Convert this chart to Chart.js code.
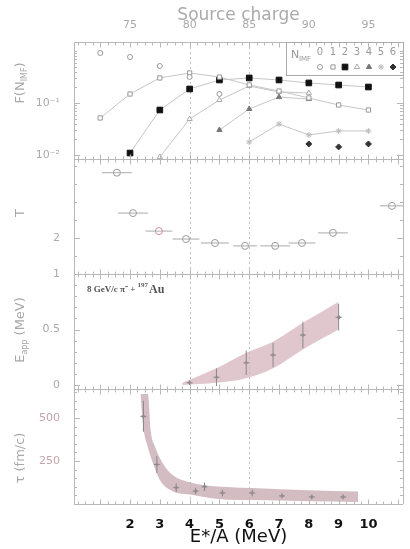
<!DOCTYPE html>
<html><head><meta charset="utf-8">
<script src="https://cdn.jsdelivr.net/npm/chart.js@4.4.1/dist/chart.umd.min.js"></script>
<style>html,body{margin:0;padding:0;background:#fff;}#wrap{position:relative;width:410px;height:549px;}</style>
</head><body><div id="wrap"><canvas id="c" width="410" height="549"></canvas></div>
<script>
// ---------- data ----------
const eStar = [1,2,3,4,5,6,7,8,9,10];
const F_N0 = [0.916,0.767,0.515,0.316,0.149,null,null,null,null,null];
const F_N1 = [0.0515,0.149,0.303,0.378,0.316,0.222,0.170,0.125,0.0916,0.0733];
const F_N2 = [null,0.0109,0.0733,0.186,0.277,0.303,0.277,0.243,0.222,0.203];
const F_N3 = [null,null,0.00916,0.0492,0.114,0.212,0.163,0.156,null,null];
const F_N4 = [null,null,null,null,0.0303,0.0767,0.130,0.119,null,null];
const F_N5 = [null,null,null,null,null,0.0178,0.0394,0.0243,0.0290,0.0290];
const F_N6 = [null,null,null,null,null,null,null,0.0163,0.0143,0.0163];

const T_x    = [1.56,2.1,2.97,3.88,4.85,5.86,6.87,7.77,8.81,10.79];
const T_val  = [3.81,2.69,2.19,1.97,1.86,1.78,1.78,1.86,2.14,2.89];
const T_xerr = [0.5,0.5,0.45,0.45,0.47,0.4,0.5,0.45,0.5,0.4];

const Eapp_x   = [4.0,4.9,5.9,6.8,7.8,9.0];
const Eapp_val = [0.02,0.07,0.20,0.27,0.45,0.61];
const Eapp_err = [0.02,0.08,0.11,0.11,0.12,0.12];
const EappBand_x  = [3.75,4.9,5.9,6.8,7.8,9.0];
const EappBand_hi = [0.02,0.15,0.29,0.39,0.56,0.75];
const EappBand_lo = [0.0,0.02,0.06,0.15,0.32,0.50];

const tau_x   = [2.45,2.9,3.55,4.2,4.5,5.1,6.1,7.1,8.1,9.15];
const tau_val = [510,230,95,75,100,64,64,47,41,41];
const tau_err = [90,50,25,20,25,20,20,15,15,15];
const tauBand_x  = [2.35,2.45,2.6,2.7,2.85,3.0,3.35,4.1,5.25,6.1,8.0,9.65];
const tauBand_hi = [640,640,640,420,330,267,180,122,99,93,80,72];
const tauBand_lo = [640,440,330,270,200,140,81,52,25,23,16,12];

const xTicks = [2,3,4,5,6,7,8,9,10];
const topTickPos = [2,4,6,8,10];
const topTickLabels = ['75','80','85','90','95'];
const gridE = [4,6];
const yF_ticks = [0.01,0.02,0.03,0.04,0.05,0.06,0.07,0.08,0.09,0.1,0.2,0.3,0.4,0.5,0.6,0.7,0.8,0.9,1];
const yF_labels = {0.01:'10⁻²',0.1:'10⁻¹'};
const yT_ticks = [1.5,2,2.5,3,3.5,4];
const yT_labels = {2:'2'};
const yE_ticks = [0,0.1,0.2,0.3,0.4,0.5,0.6,0.7,0.8,0.9,1];
const yE_labels = {0:'0',0.5:'0.5',1:'1'};
const yTau_ticks = [50,100,150,200,250,300,350,400,450,500,550,600,650];
const yTau_labels = {250:'250',500:'500'};

// ---------- helpers ----------
const pts = (xs, ys) => xs.map((x,i)=>({x, y: ys[i]})).filter(p => p.y !== null);
const lineGray = '#c6c6c6';
function fSeries(label, ys, style, r, fill, stroke, showLine) {
  return {label, data: pts(eStar, ys), xAxisID:'x', yAxisID:'yF', showLine,
    borderColor: lineGray, borderWidth: 1, pointStyle: style, pointRadius: r,
    pointBackgroundColor: fill, pointBorderColor: stroke, pointBorderWidth: 1};
}
function setTicks(arr){ return s => { s.ticks = arr.map(v => ({value: v})); }; }
const fixW = s => { s.width = 74; };
const tickFont = {size: 11, family: 'DejaVu Sans'};

const legendItems = [
  {t:'0', style:'circle', r:2.5, fill:'#fff', stroke:'#999'},
  {t:'1', style:'rect', r:3, fill:'#fff', stroke:'#999'},
  {t:'2', style:'rect', r:4, fill:'#111', stroke:'#111'},
  {t:'3', style:'triangle', r:3, fill:'#fff', stroke:'#aaa'},
  {t:'4', style:'triangle', r:3, fill:'#777', stroke:'#777'},
  {t:'5', style:'star', r:3, fill:'#fff', stroke:'#bbb'},
  {t:'6', style:'rectRot', r:3, fill:'#333', stroke:'#333'}
];

function errBars(ctx, xs, ys, X, Y, XE, YE, color) {
  ctx.save(); ctx.strokeStyle = color; ctx.lineWidth = 1;
  for (let i = 0; i < X.length; i++) {
    const px = xs.getPixelForValue(X[i]), py = ys.getPixelForValue(Y[i]);
    ctx.beginPath();
    if (XE) {
      const a = xs.getPixelForValue(X[i]-XE[i]), b = xs.getPixelForValue(X[i]+XE[i]);
      ctx.moveTo(a, py); ctx.lineTo(b, py);
    }
    if (YE) {
      const a = ys.getPixelForValue(Y[i]-YE[i]), b = ys.getPixelForValue(Y[i]+YE[i]);
      ctx.moveTo(px, a); ctx.lineTo(px, b);
      ctx.moveTo(px-3, py); ctx.lineTo(px+3, py);
    }
    ctx.stroke();
  }
  ctx.restore();
}

const deco = {
  id: 'deco',
  beforeDatasetsDraw(chart) {
    const {ctx, chartArea: a, scales} = chart;
    ctx.save(); ctx.strokeStyle = '#c0c0c0'; ctx.lineWidth = 1; ctx.setLineDash([2,3]);
    for (const v of gridE) {
      const px = Math.round(scales.x.getPixelForValue(v)) + 0.5;
      ctx.beginPath(); ctx.moveTo(px, a.top); ctx.lineTo(px, a.bottom); ctx.stroke();
    }
    ctx.restore();
  },
  afterDatasetsDraw(chart) {
    const {ctx, chartArea: a, scales} = chart;
    const xs = scales.x;
    errBars(ctx, xs, scales.yT, T_x, T_val, T_xerr, null, '#aaa');
    errBars(ctx, xs, scales.yE, Eapp_x, Eapp_val, null, Eapp_err, '#888');
    errBars(ctx, xs, scales.yTau, tau_x, tau_val, null, tau_err, '#888');

    // frames and panel separators
    ctx.save(); ctx.strokeStyle = '#b8b8b8'; ctx.lineWidth = 1;
    const bounds = [a.top, scales.yT.top, scales.yE.top, scales.yTau.top, a.bottom].map(v => Math.round(v) + 0.5);
    for (const b of bounds) { ctx.beginPath(); ctx.moveTo(a.left, b); ctx.lineTo(a.right, b); ctx.stroke(); }
    ctx.beginPath(); ctx.moveTo(Math.round(a.right)+0.5, a.top); ctx.lineTo(Math.round(a.right)+0.5, a.bottom); ctx.stroke();
    // x minor ticks along boundaries
    for (let k = 1; k <= 44; k++) {
      const v = k * 0.25; if (v >= xs.max) break;
      const px = Math.round(xs.getPixelForValue(v)) + 0.5;
      const len = (k % 4 === 0) ? 5 : 3;
      bounds.forEach((b, i) => {
        ctx.beginPath();
        if (i > 0) { ctx.moveTo(px, b); ctx.lineTo(px, b - len); }
        if (i < bounds.length - 1) { ctx.moveTo(px, b); ctx.lineTo(px, b + len); }
        ctx.stroke();
      });
    }
    // y ticks inward
    const yTickSets = [[scales.yF, yF_ticks, yF_labels],[scales.yT, yT_ticks, yT_labels],[scales.yE, yE_ticks, yE_labels],[scales.yTau, yTau_ticks, yTau_labels]];
    for (const [s, tk, lb] of yTickSets) {
      for (const v of tk) {
        const py = Math.round(s.getPixelForValue(v)) + 0.5;
        if (py < s.top + 1 || py > s.bottom - 1) continue;
        const len = lb[v] ? 6 : 3;
        ctx.beginPath(); ctx.moveTo(a.left, py); ctx.lineTo(a.left + len, py);
        ctx.moveTo(a.right, py); ctx.lineTo(a.right - len, py); ctx.stroke();
      }
    }
    ctx.restore();
  },
  afterDraw(chart) {
    const {ctx, scales} = chart;
    // legend box
    ctx.save();
    ctx.strokeStyle = '#aaa'; ctx.lineWidth = 1;
    ctx.strokeRect(286.5, 42.5, 117, 33);
    ctx.fillStyle = '#999'; ctx.textBaseline = 'middle';
    ctx.font = '11px DejaVu Sans'; ctx.fillText('N', 291, 55);
    ctx.font = '7px DejaVu Sans'; ctx.fillText('IMF', 299, 59);
    const lx = [320,333,345,357,369,381,393];
    ctx.font = '10px DejaVu Sans'; ctx.textAlign = 'center';
    legendItems.forEach((it, i) => {
      ctx.fillStyle = '#999'; ctx.fillText(it.t, lx[i], 52);
      ctx.fillStyle = it.fill; ctx.strokeStyle = it.stroke; ctx.lineWidth = 1;
      Chart.helpers.drawPoint(ctx, {pointStyle: it.style, radius: it.r, borderWidth: 1, rotation: 0}, lx[i], 67);
    });
    ctx.restore();

    // left axis titles
    ctx.save(); ctx.fillStyle = '#a8a8a8'; ctx.textBaseline = 'middle';
    const titles = [
      {parts:[['F(N',13,0],['IMF',8,4],[')',13,0]], y: 83},
      {parts:[['T',13,0]], y: 213},
      {parts:[['E',13,0],['app',8,4],[' (MeV)',13,0]], y: 330},
      {parts:[['τ (fm/c)',13,0]], y: 458}
    ];
    for (const t of titles) {
      let w = 0;
      for (const [s, f] of t.parts) { ctx.font = f + 'px DejaVu Sans'; w += ctx.measureText(s).width; }
      ctx.save(); ctx.translate(21, t.y); ctx.rotate(-Math.PI/2);
      let x = -w/2;
      for (const [s, f, dy] of t.parts) { ctx.font = f + 'px DejaVu Sans'; ctx.fillText(s, x, dy); x += ctx.measureText(s).width; }
      ctx.restore();
    }
    // reaction annotation
    ctx.fillStyle = '#555'; ctx.textBaseline = 'middle'; ctx.textAlign = 'left';
    ctx.font = 'bold 9px Liberation Serif';
    const s1 = '8 GeV/c π⁻ + ';
    ctx.fillText(s1, 87, 290);
    let x = 87 + ctx.measureText(s1).width;
    ctx.font = 'bold 7px Liberation Serif'; ctx.fillText('197', x, 285);
    x += ctx.measureText('197').width;
    ctx.font = 'bold 12px Liberation Serif'; ctx.fillText('Au', x + 1, 290);
    ctx.restore();
  }
};

const datasets = [
  fSeries('N0', F_N0, 'circle', 2.5, '#fff', '#999', false),
  fSeries('N1', F_N1, 'rect', 3, '#fff', '#999', true),
  fSeries('N2', F_N2, 'rect', 4, '#111', '#111', true),
  fSeries('N3', F_N3, 'triangle', 3, '#fff', '#aaa', true),
  fSeries('N4', F_N4, 'triangle', 3, '#777', '#777', true),
  fSeries('N5', F_N5, 'star', 3, '#fff', '#bbb', true),
  fSeries('N6', F_N6, 'rectRot', 3, '#333', '#333', false),
  {label:'T', data: pts(T_x, T_val), xAxisID:'x', yAxisID:'yT', showLine:false,
   pointStyle:'circle', pointRadius:3.5, pointBackgroundColor:'#fff', pointBorderWidth:1,
   pointBorderColor: T_x.map((v,i)=> i===2 ? '#d58a9a' : '#999')},
  {label:'EappHi', data: pts(EappBand_x, EappBand_hi), xAxisID:'x', yAxisID:'yE', borderWidth:0, pointRadius:0, fill:false, cubicInterpolationMode:'monotone'},
  {label:'EappLo', data: pts(EappBand_x, EappBand_lo), xAxisID:'x', yAxisID:'yE', borderWidth:0, pointRadius:0, fill:'-1', backgroundColor:'rgba(214,180,188,0.75)', cubicInterpolationMode:'monotone'},
  {label:'Eapp', data: pts(Eapp_x, Eapp_val), xAxisID:'x', yAxisID:'yE', showLine:false, pointStyle:'rectRot', pointRadius:2, pointBackgroundColor:'#888', pointBorderColor:'#888'},
  {label:'tauHi', data: pts(tauBand_x, tauBand_hi), xAxisID:'x', yAxisID:'yTau', borderWidth:0, pointRadius:0, fill:false, cubicInterpolationMode:'monotone'},
  {label:'tauLo', data: pts(tauBand_x, tauBand_lo), xAxisID:'x', yAxisID:'yTau', borderWidth:0, pointRadius:0, fill:'-1', backgroundColor:'rgba(200,172,180,0.8)', cubicInterpolationMode:'monotone'},
  {label:'tau', data: pts(tau_x, tau_val), xAxisID:'x', yAxisID:'yTau', showLine:false, pointStyle:'rectRot', pointRadius:2, pointBackgroundColor:'#888', pointBorderColor:'#888'}
];

const xMin = 0.12, xMax = 11.16;
new Chart(document.getElementById('c'), {
  type: 'line',
  data: {datasets},
  options: {
    responsive: false, animation: false, devicePixelRatio: 1,
    layout: {padding: {left: 0, right: 7, top: 0, bottom: 0}},
    plugins: {legend: {display: false}, tooltip: {enabled: false}},
    scales: {
      x: {type:'linear', position:'bottom', min:xMin, max:xMax,
        afterBuildTicks: setTicks(xTicks),
        ticks: {color:'#111', font:{size:13, weight:'bold', family:'DejaVu Sans'}, padding:5, maxRotation:0, autoSkip:false, callback: v => String(v)},
        grid: {display:false}, border: {display:false},
        title: {display:true, text:'E*/A (MeV)', color:'#111', font:{size:18, family:'DejaVu Sans'}, padding:{top:0, bottom:1}},
        afterFit: s => { s.height = 45; }},
      x2: {type:'linear', position:'top', min:xMin, max:xMax,
        afterBuildTicks: setTicks(topTickPos),
        ticks: {color:'#aaa', font:{size:11, family:'DejaVu Sans'}, padding:2, maxRotation:0, autoSkip:false, callback: (v,i) => topTickLabels[i]},
        grid: {display:false}, border: {display:false},
        title: {display:true, text:'Source charge', color:'#aaa', font:{size:17, family:'DejaVu Sans'}, padding:{top:5, bottom:0}},
        afterFit: s => { s.height = 42; }},
      yF: {type:'logarithmic', position:'left', stack:'p', stackWeight:117, weight:4, min:0.00837, max:1.49,
        afterBuildTicks: setTicks([0.01, 0.1]),
        ticks: {color:'#aaa', font: tickFont, padding:6, callback: v => yF_labels[v] || ''},
        grid: {display:false}, border: {display:true, color:'#b8b8b8'}, afterFit: fixW},
      yT: {type:'linear', position:'left', stack:'p', stackWeight:115, weight:3, min:1, max:4.19,
        afterBuildTicks: setTicks([2]),
        ticks: {color:'#aaa', font: tickFont, padding:6, callback: v => yT_labels[v] || ''},
        grid: {display:false}, border: {display:true, color:'#b8b8b8'}, afterFit: fixW},
      yE: {type:'linear', position:'left', stack:'p', stackWeight:115, weight:2, min:-0.036, max:1,
        afterBuildTicks: setTicks([0, 0.5, 1]),
        ticks: {color:'#aaa', font: tickFont, padding:6, callback: v => yE_labels[v] || ''},
        grid: {display:false}, border: {display:true, color:'#b8b8b8'}, afterFit: fixW},
      yTau: {type:'linear', position:'left', stack:'p', stackWeight:115, weight:1, min:0, max:669,
        afterBuildTicks: setTicks([250, 500]),
        ticks: {color:'#c4a4aa', font: tickFont, padding:6, callback: v => yTau_labels[v] || ''},
        grid: {display:false}, border: {display:true, color:'#b8b8b8'}, afterFit: fixW}
    }
  },
  plugins: [deco]
});
</script></body></html>
